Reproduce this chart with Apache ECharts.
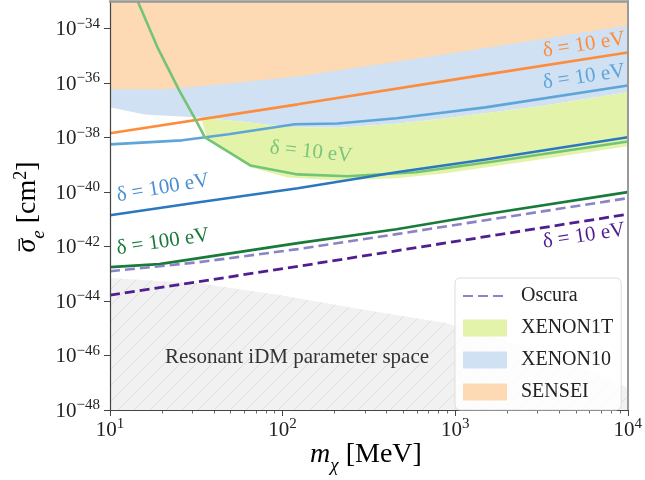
<!DOCTYPE html>
<html>
<head>
<meta charset="utf-8">
<script src="https://cdn.jsdelivr.net/npm/echarts@6/dist/echarts.min.js"></script>
<style>
  html, body { margin: 0; padding: 0; background: #fff; }
  #main { width: 645px; height: 480px; }
</style>
</head>
<body>
<div id="main"></div>
<script>
// all values are log10(m_chi / MeV) on x and log10(sigma_e / cm^2) on y
var xTicks = [1, 2, 3, 4];
var yTicks = [-48, -46, -44, -42, -40, -38, -36, -34];
var minorMass = [20, 30, 40, 50, 60, 70, 80, 90, 200, 300, 400, 500, 600, 700, 800, 900, 2000, 3000, 4000, 5000, 6000, 7000, 8000, 9000];

// shaded regions
var senseiX = [1.0, 1.315, 1.63, 2.088, 2.946, 3.175, 4.0];
var senseiLow = [-36.24, -36.24, -36.06, -35.77, -34.95, -34.72, -33.90];

var xenon10X = [1.0, 1.2, 1.515, 1.8, 2.03, 2.317, 2.66, 2.946, 3.175, 3.5, 4.0];
var xenon10Low = [-36.90, -37.16, -37.27, -37.45, -37.62, -37.65, -37.50, -37.30, -37.12, -36.85, -36.35];

var xenon1tTopX = [1.527, 1.8, 2.03, 2.317, 2.66, 2.946, 3.175, 3.5, 4.0];
var xenon1tTop = [-37.28, -37.45, -37.62, -37.65, -37.50, -37.30, -37.12, -36.85, -36.35];
var xenon1tLowX = [1.527, 1.561, 1.813, 2.03, 2.317, 2.66, 2.946, 3.461, 4.0];
var xenon1tLow = [-37.27, -38.0, -39.10, -39.47, -39.58, -39.50, -39.32, -38.84, -38.33];

var idmX = [1.0, 1.515, 1.99, 2.488, 2.946, 3.576, 4.0];
var idmTop = [-43.16, -43.35, -43.79, -44.34, -44.81, -45.99, -47.19];

// projected lines
var senseiLineX = [1.0, 2.088, 3.175, 4.0];
var senseiLine = [-37.85, -36.79, -35.70, -34.89];
var x10LineX = [1.0, 1.418, 1.687, 2.07, 2.317, 2.66, 2.946, 3.175, 4.0];
var x10Line = [-38.26, -38.11, -37.89, -37.52, -37.49, -37.30, -37.08, -36.90, -36.10];
var x1tLineX = [1.16, 1.275, 1.401, 1.498, 1.55, 1.813, 2.088, 2.374, 2.774, 3.232, 4.0];
var x1tLine = [-33.0, -34.70, -36.28, -37.38, -38.0, -39.03, -39.36, -39.43, -39.28, -38.88, -38.15];
var blue100X = [1.0, 1.515, 2.088, 2.66, 3.175, 4.0];
var blue100 = [-40.86, -40.38, -39.87, -39.28, -38.81, -38.0];
var green100X = [1.0, 1.286, 1.515, 2.088, 2.66, 3.175, 4.0];
var green100 = [-42.76, -42.65, -42.43, -41.88, -41.37, -40.82, -40.01];
var oscuraX = [1.0, 1.515, 2.088, 2.66, 3.175, 4.0];
var oscura = [-42.91, -42.58, -42.10, -41.55, -41.04, -40.23];
var oscura10X = [1.0, 2.03, 4.0];
var oscura10 = [-43.79, -42.79, -40.82];

var FONT = '"Liberation Serif", "DejaVu Serif", serif';
var X_MIN = 1, X_MAX = 4, Y_MIN = -48, Y_MAX = -33;

var chart = echarts.init(document.getElementById('main'));

function pts(xs, ys) {
  return xs.map(function (x, i) { return [x, ys[i]]; });
}

function region(name, points, fill, legendColor, z) {
  return {
    name: name,
    type: 'custom',
    z: z,
    silent: true,
    clip: true,
    itemStyle: { color: legendColor },
    data: points,
    renderItem: function (params, api) {
      if (params.dataIndex !== 0) return null;
      return {
        type: 'polygon',
        shape: { points: points.map(function (p) { return api.coord(p); }) },
        style: { fill: fill }
      };
    }
  };
}

function line(name, xs, ys, color, width, dash) {
  return {
    name: name,
    type: 'line',
    data: pts(xs, ys),
    symbol: 'none',
    z: 5,
    silent: true,
    color: color,
    lineStyle: { color: color, width: width, type: dash || 'solid' }
  };
}

// hatch for the resonant iDM region
var hatch = document.createElement('canvas');
hatch.width = 16;
hatch.height = 16;
var ctx = hatch.getContext('2d');
ctx.fillStyle = '#f1f1f1';
ctx.fillRect(0, 0, 16, 16);
ctx.strokeStyle = '#dadada';
ctx.lineWidth = 0.8;
ctx.beginPath();
ctx.moveTo(0, 16); ctx.lineTo(16, 0);
ctx.moveTo(-4, 4); ctx.lineTo(4, -4);
ctx.moveTo(12, 20); ctx.lineTo(20, 12);
ctx.stroke();

var senseiPoly = pts(senseiX, senseiLow).concat([[X_MAX, Y_MAX], [X_MIN, Y_MAX]]);
var xenon10Poly = pts(xenon10X, xenon10Low).concat([[X_MAX, Y_MAX], [X_MIN, Y_MAX]]);
var xenon1tPoly = pts(xenon1tTopX, xenon1tTop).concat(pts(xenon1tLowX, xenon1tLow).reverse());
var idmPoly = pts(idmX, idmTop).concat([[X_MAX, Y_MIN], [X_MIN, Y_MIN]]);

var supRich = {
  b: { fontFamily: FONT, fontSize: 21, color: '#222', verticalAlign: 'bottom' },
  s: { fontFamily: FONT, fontSize: 15, color: '#222', verticalAlign: 'bottom', padding: [0, 0, 9, 0] }
};

function note(text, x, y, deg, color, size) {
  return {
    type: 'text',
    x: x,
    y: y,
    rotation: deg * Math.PI / 180,
    silent: true,
    z: 50,
    style: {
      text: text,
      fill: color,
      font: (size || 21) + 'px ' + FONT,
      align: 'center',
      verticalAlign: 'middle'
    }
  };
}

var option = {
  animation: false,
  grid: { left: 110, right: 11, top: 1, bottom: 70 },
  legend: {
    data: [
      { name: 'Oscura', itemStyle: { opacity: 0 } },
      { name: 'XENON1T', icon: 'rect' },
      { name: 'XENON10', icon: 'rect' },
      { name: 'SENSEI', icon: 'rect' }
    ],
    orient: 'vertical',
    left: 455,
    top: 278,
    itemWidth: 44,
    itemHeight: 17,
    itemGap: 12,
    padding: [8, 8, 8, 7],
    backgroundColor: 'rgba(255,255,255,0.85)',
    borderColor: '#dddddd',
    borderWidth: 1,
    borderRadius: 5,
    selectedMode: false,
    z: 60,
    textStyle: { fontFamily: FONT, fontSize: 20, color: '#222', padding: [0, 0, 0, 9] }
  },
  xAxis: [{
    type: 'value', min: X_MIN, max: X_MAX, interval: 1, z: 20,
    axisLine: { onZero: false, lineStyle: { color: '#444', width: 1.2 } },
    axisTick: { length: 6, lineStyle: { color: '#444', width: 1 } },
    splitLine: { show: false },
    axisLabel: {
      margin: 7,
      formatter: function (v) { return '{b|10}{s|' + v + '}'; },
      rich: supRich
    }
  }, {
    type: 'value', min: X_MIN, max: X_MAX, position: 'bottom', z: 20,
    axisLine: { show: false },
    axisLabel: { show: false },
    splitLine: { show: false },
    axisTick: {
      length: 3.5,
      customValues: minorMass.map(function (m) { return Math.log10(m); }),
      lineStyle: { color: '#444', width: 0.8 }
    }
  }, {
    type: 'value', min: X_MIN, max: X_MAX, position: 'top', z: 20,
    axisLine: { onZero: false, lineStyle: { color: '#999', width: 2.5 } },
    axisTick: { show: false }, axisLabel: { show: false }, splitLine: { show: false }
  }],
  yAxis: [{
    type: 'value', min: Y_MIN, max: Y_MAX, interval: 2, z: 20,
    axisLine: { show: true, onZero: false, lineStyle: { color: '#444', width: 1.2 } },
    axisTick: { show: true, length: 6, customValues: yTicks, lineStyle: { color: '#444', width: 1 } },
    splitLine: { show: false },
    axisLabel: {
      margin: 10,
      customValues: yTicks,
      formatter: function (v) { return '{b|10}{s|\u2212' + (-v) + '}'; },
      rich: supRich
    }
  }, {
    type: 'value', min: Y_MIN, max: Y_MAX, position: 'right', z: 20,
    axisLine: { show: true, onZero: false, lineStyle: { color: '#999', width: 2 } },
    axisTick: { show: false }, axisLabel: { show: false }, splitLine: { show: false }
  }],
  graphic: [
    note('\u03b4 = 10 eV', 584, 45, 8.8, '#fd8d3c'),
    note('\u03b4 = 10 eV', 584, 77, 8.5, '#5ea5d8'),
    note('\u03b4 = 10 eV', 311, 152, -6, '#7cc57a'),
    note('\u03b4 = 100 eV', 163, 188, 9.5, '#4a8fcf'),
    note('\u03b4 = 100 eV', 163, 242, 8.5, '#1a7a3a'),
    note('\u03b4 = 10 eV', 584, 236, 8.8, '#4f1f8e'),
    note('Resonant iDM parameter space', 297, 357, 0, '#333', 21),
    {
      type: 'text', x: 366, y: 458, silent: true,
      style: {
        text: '{m|m}{c|\u03c7}{t| [MeV]}',
        align: 'center', verticalAlign: 'middle',
        rich: {
          m: { fontFamily: FONT, fontSize: 28, fontStyle: 'italic', color: '#222', verticalAlign: 'bottom', padding: [0, 0, 6, 0] },
          c: { fontFamily: FONT, fontSize: 19, fontStyle: 'italic', color: '#222', verticalAlign: 'bottom' },
          t: { fontFamily: FONT, fontSize: 28, color: '#222', verticalAlign: 'bottom', padding: [0, 0, 6, 0] }
        }
      }
    },
    {
      type: 'text', x: 30, y: 207, rotation: Math.PI / 2, silent: true,
      style: {
        text: '{a|\u03c3}{e|e}{t| [cm}{s|2}{t|]}',
        align: 'center', verticalAlign: 'middle',
        rich: {
          a: { fontFamily: FONT, fontSize: 28, fontStyle: 'italic', color: '#222', verticalAlign: 'bottom', padding: [0, 0, 6, 0] },
          e: { fontFamily: FONT, fontSize: 19, fontStyle: 'italic', color: '#222', verticalAlign: 'bottom' },
          t: { fontFamily: FONT, fontSize: 28, color: '#222', verticalAlign: 'bottom', padding: [0, 0, 6, 0] },
          s: { fontFamily: FONT, fontSize: 18, color: '#222', verticalAlign: 'bottom', padding: [0, 0, 18, 0] }
        }
      }
    },
    // bar over sigma
    {
      type: 'rect', silent: true, z: 50,
      shape: { x: 18.5, y: 239, width: 1.5, height: 12 },
      style: { fill: '#222' }
    }
  ],
  series: [
    region('iDM', idmPoly, { image: hatch, repeat: 'repeat' }, '#f1f1f1', 1),
    region('XENON10', xenon10Poly, '#cfe1f2', '#cfe1f2', 2),
    region('SENSEI', senseiPoly, '#fdd9b4', '#fdd9b4', 3),
    region('XENON1T', xenon1tPoly, '#e3f4aa', '#e3f4aa', 3),
    line('SENSEI 10 eV', senseiLineX, senseiLine, '#fd8d3c', 2.6),
    line('XENON10 10 eV', x10LineX, x10Line, '#5ea5d8', 2.6),
    line('XENON1T 10 eV', x1tLineX, x1tLine, '#74c476', 2.6),
    line('XENON10 100 eV', blue100X, blue100, '#2c78c0', 2.6),
    line('XENON1T 100 eV', green100X, green100, '#1a7a3a', 2.6),
    line('Oscura', oscuraX, oscura, '#8b83c5', 2.6, [10, 5]),
    line('Oscura 10 eV', oscura10X, oscura10, '#4f1f8e', 2.8, [10, 5])
  ]
};

chart.setOption(option);
</script>
</body>
</html>
